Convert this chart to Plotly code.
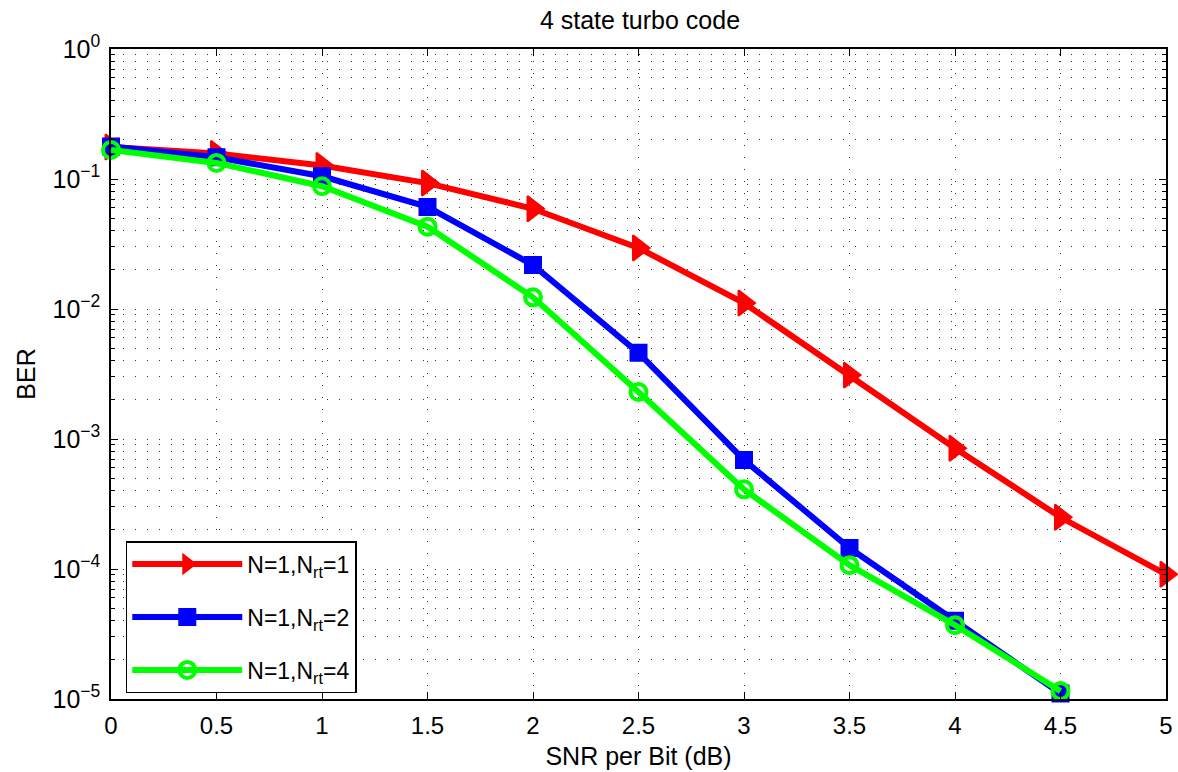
import plotly.graph_objects as go

# SNR per bit (dB)
snr_db = [0, 0.5, 1, 1.5, 2, 2.5, 3, 3.5, 4, 4.5, 5]

# Bit error rate for each retransmission setting
ber_nrt1 = [0.176, 0.157, 0.127, 0.093, 0.059, 0.0295, 0.0111, 0.0031, 0.00085, 0.00025, 0.000091]
ber_nrt2 = [0.178, 0.147, 0.105, 0.061, 0.0218, 0.0046, 0.00069, 0.000145, 0.00004, 0.000011]
ber_nrt4 = [0.167, 0.133, 0.088, 0.043, 0.0123, 0.0023, 0.00041, 0.000107, 0.000037, 0.0000115]

series_names = ["N=1,N<sub>rt</sub>=1", "N=1,N<sub>rt</sub>=2", "N=1,N<sub>rt</sub>=4"]

x_ticks = [0, 0.5, 1, 1.5, 2, 2.5, 3, 3.5, 4, 4.5, 5]
x_tick_text = ["0", "0.5", "1", "1.5", "2", "2.5", "3", "3.5", "4", "4.5", "5"]
decades = [0, -1, -2, -3, -4, -5]

FONT = "Liberation Sans, Arial, Helvetica, sans-serif"

# log-axis ticks: labelled decades, plus 2..9 minor ticks inside each decade
y_vals = [10.0 ** e for e in decades]
y_text = [f"10<sup>{e}</sup>" if e == 0 else f"10<sup>\u2212{abs(e)}</sup>" for e in decades]
y_minor = [m * 10.0 ** (e - 1) for e in decades[:-1] for m in range(2, 10)]

fig = go.Figure()

fig.add_trace(go.Scatter(
    x=snr_db[:len(ber_nrt1)], y=ber_nrt1, name=series_names[0], mode="lines+markers",
    legendgroup="a",
    line=dict(color="#ff0000", width=6),
    marker=dict(symbol="triangle-right", size=22, color="#ff0000",
                line=dict(color="#ff0000", width=2)),
    cliponaxis=False,
))
fig.add_trace(go.Scatter(
    x=snr_db[:len(ber_nrt2)], y=ber_nrt2, name=series_names[1], mode="lines+markers",
    legendgroup="b",
    line=dict(color="#0000ff", width=6),
    marker=dict(symbol="square", size=16, color="#0000ff",
                line=dict(color="#0000ff", width=2)),
    cliponaxis=False,
))
fig.add_trace(go.Scatter(
    x=snr_db[:len(ber_nrt4)], y=ber_nrt4, name=series_names[2], mode="lines+markers",
    legendgroup="c",
    line=dict(color="#00ff00", width=6),
    marker=dict(symbol="circle-open", size=16, color="#00ff00",
                line=dict(color="#00ff00", width=4)),
    cliponaxis=False,
))

grid_dash = "1px,11px"

fig.update_layout(
    width=1178, height=772,
    margin=dict(l=111, r=12, t=49, b=73),
    paper_bgcolor="white", plot_bgcolor="white",
    font=dict(family=FONT, color="black", size=24),
    title=dict(text="4 state turbo code", x=0.5433, xanchor="center",
               y=1 - 20 / 772, yanchor="middle", font=dict(size=25)),
    showlegend=True,
    legend=dict(
        x=0.014, y=0.009, xanchor="left", yanchor="bottom",
        bgcolor="white", bordercolor="black", borderwidth=1.5,
        font=dict(size=23, family=FONT), itemwidth=110,
        traceorder="grouped", tracegroupgap=20,
    ),
    xaxis=dict(
        range=[0, 5], tickvals=x_ticks, ticktext=x_tick_text,
        ticks="inside", ticklen=7, tickcolor="black",
        showline=True, linecolor="black", linewidth=1.5, mirror="ticks",
        showgrid=True, gridcolor="#333333", gridwidth=1, griddash=grid_dash,
        zeroline=False, ticklabelstandoff=4, automargin=False,
        title=dict(text="SNR per Bit (dB)", font=dict(size=25), standoff=10),
        tickfont=dict(size=24),
    ),
    yaxis=dict(
        type="log", range=[-5, 0], tickvals=y_vals, ticktext=y_text,
        ticks="inside", ticklen=7, tickcolor="black",
        showline=True, linecolor="black", linewidth=1.5, mirror="ticks",
        showgrid=True, gridcolor="#333333", gridwidth=1, griddash=grid_dash,
        minor=dict(tickvals=y_minor, ticks="inside", ticklen=4, tickcolor="black",
                   showgrid=True, gridcolor="#333333", gridwidth=1, griddash=grid_dash),
        zeroline=False, ticklabelstandoff=4, automargin=False,
        title=dict(text="BER", font=dict(size=25), standoff=10),
        tickfont=dict(size=25),
    ),
)

fig.write_html("out.html")
